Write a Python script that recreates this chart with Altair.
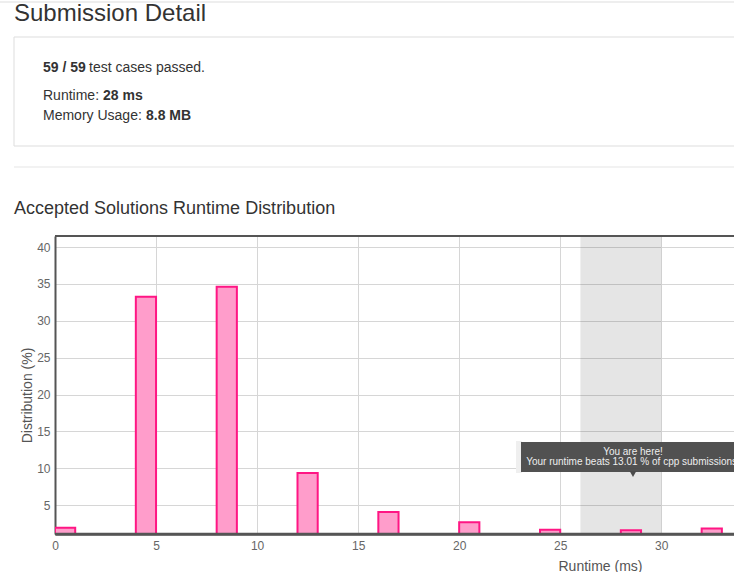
import altair as alt
import pandas as pd

# ---- data ----
starts = [0, 4, 8, 12, 16, 20, 24, 28, 32]
ends = [1, 5, 9, 13, 17, 21, 25, 29, 33]
dist = [1.96, 33.26, 34.62, 9.38, 4.09, 2.69, 1.69, 1.61, 1.83]
x_ticks = [0, 5, 10, 15, 20, 25, 30]
y_ticks = [5, 10, 15, 20, 25, 30, 35, 40]
band_start = [26]
band_end = [30]

W, H = 679, 298
FONT = "Liberation Sans"

bars_df = pd.DataFrame({"start": starts, "end": ends, "dist": dist})
band_df = pd.DataFrame({"start": band_start, "end": band_end})

xscale = alt.Scale(domain=[0, 33.6], nice=False, zero=False)
yscale = alt.Scale(domain=[1.1, 41.5], nice=False, zero=False)

bars = alt.Chart(bars_df).mark_bar(
    fill="#ff9dcb", stroke="#ff1684", strokeWidth=2, clip=True
).encode(
    x=alt.X("start:Q", scale=xscale, axis=alt.Axis(
        values=x_ticks, grid=True, gridColor="#d6d6d6", ticks=False,
        labelColor="#666", labelFontSize=12, labelPadding=6, labelFont=FONT,
        labelFlush=False,
        domainColor="#555", domainWidth=2.5,
        title="Runtime (ms)", titleFont=FONT, titleFontSize=14, titleFontWeight="normal",
        titleColor="#555", titleX=545, titleY=32, titleBaseline="middle", titleAlign="center")),
    x2="end:Q",
    y=alt.Y("dist:Q", scale=yscale, axis=alt.Axis(
        values=y_ticks, grid=True, gridColor="#d6d6d6", ticks=False,
        labelColor="#666", labelFontSize=12, labelPadding=5, labelFont=FONT,
        labelFlush=False,
        domainColor="#555", domainWidth=2,
        title="Distribution (%)", titleFont=FONT, titleFontSize=14, titleFontWeight="normal",
        titleColor="#555", titleX=-28, titleY=159, titleAngle=-90,
        titleBaseline="middle", titleAlign="center")),
    y2=alt.datum(0),
)

band = alt.Chart(band_df).mark_rect(fill="#000000", opacity=0.1).encode(
    x="start:Q", x2="end:Q",
    y=alt.value(0), y2=alt.value(H),
)

one = pd.DataFrame({"a": [0]})


def txt(s, x, y, size=14, weight="normal", color="#333", align="left", angle=0):
    return alt.Chart(pd.DataFrame({"t": [s]})).mark_text(
        font=FONT, fontSize=size, fontWeight=weight, color=color,
        align=align, baseline="middle", angle=angle
    ).encode(text="t:N", x=alt.value(x), y=alt.value(y))


def rect(x, x2, y, y2, fill="none", stroke=None, sw=1, opacity=1):
    kw = dict(fill=fill, opacity=opacity)
    if stroke:
        kw.update(stroke=stroke, strokeWidth=sw)
    return alt.Chart(one).mark_rect(**kw).encode(
        x=alt.value(x), x2=alt.value(x2), y=alt.value(y), y2=alt.value(y2))


def rule(x, x2, y, color, sw):
    return alt.Chart(one).mark_rule(color=color, strokeWidth=sw).encode(
        x=alt.value(x), x2=alt.value(x2), y=alt.value(y))


# plot origin is at page (55, 236)
layers = [
    band,
    bars,
    rule(0, W, 0, "#555", 2),          # top border
    rule(0, W, H, "#555", 2.5),        # bottom axis line on top of bars
    rule(-55, W, -234, "#dddddd", 1),  # page top line
    rect(-41, 700, -199, -90, fill="#ffffff", stroke="#dddddd"),
    rule(-41, W, -69, "#e5e5e5", 1),
    txt("Submission Detail", -41, -222, size=24, color="#333"),
    txt("59 / 59", -12, -168, size=14, weight="bold"),
    txt("test cases passed.", 34, -168, size=14),
    txt("Runtime:", -12, -140, size=14),
    txt("28 ms", 48, -140, size=14, weight="bold"),
    txt("Memory Usage:", -12, -120, size=14),
    txt("8.8 MB", 91, -120, size=14, weight="bold"),
    txt("Accepted Solutions Runtime Distribution", -41, -27, size=18, color="#333"),
    # tooltip
    rect(461, 467, 205, 237, fill="#efefef"),
    rect(466, 700, 206, 236, fill="#4b4b4b", opacity=0.97),
    alt.Chart(one).mark_point(shape="triangle-down", filled=True, color="#4b4b4b",
                              size=45, opacity=1).encode(x=alt.value(578), y=alt.value(238)),
    txt("You are here!", 578, 215.5, size=10, color="#eeeeee", align="center"),
    txt("Your runtime beats 13.01 % of cpp submissions.", 578, 225.8, size=10,
        color="#eeeeee", align="center"),
]

chart = alt.layer(*layers).properties(
    width=W, height=H,
    autosize=alt.AutoSizeParams(type="none"),
    padding={"left": 55, "top": 236, "right": 0, "bottom": 38},
    background="#ffffff",
).configure_view(stroke=None)

chart.save("out.html", embed_options={"renderer": "svg", "actions": False})
